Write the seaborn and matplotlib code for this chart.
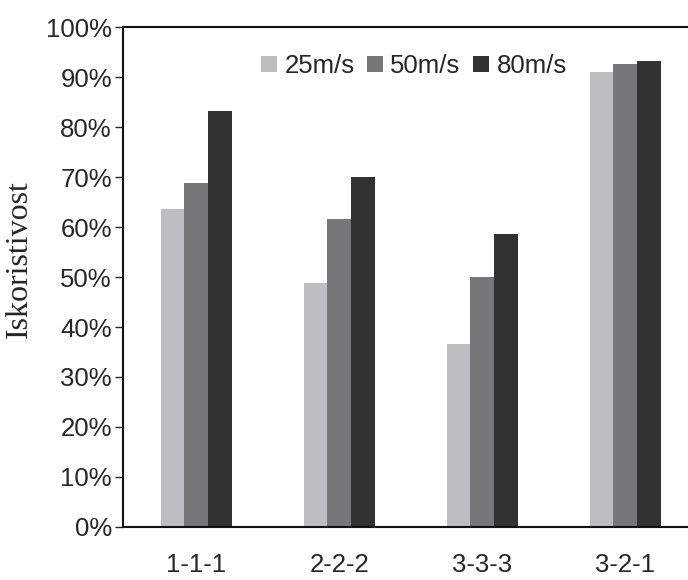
import matplotlib
matplotlib.use("Agg")
import matplotlib.pyplot as plt
import seaborn as sns
import pandas as pd
from matplotlib.ticker import PercentFormatter

configs = ["1-1-1", "2-2-2", "3-3-3", "3-2-1"]
speeds = ["25m/s", "50m/s", "80m/s"]
v25 = [63.7, 48.9, 36.7, 91.0]
v50 = [68.9, 61.7, 50.1, 92.7]
v80 = [83.3, 70.1, 58.7, 93.3]

rows = []
for speed, vals in zip(speeds, [v25, v50, v80]):
    for c, v in zip(configs, vals):
        rows.append({"config": c, "speed": speed, "value": v})
df = pd.DataFrame(rows)

sns.set_style("ticks")
plt.rcParams["font.family"] = ["Liberation Sans", "DejaVu Sans"]

fig = plt.figure(figsize=(6.88, 5.8), dpi=100)
ax = fig.add_axes([0.1788, 0.0914, 0.8212, 0.862])

palette = ["#bdbec2", "#77777a", "#333233"]
sns.barplot(data=df, x="config", y="value", hue="speed", palette=palette,
            width=0.5, gap=0, saturation=1, ax=ax, errorbar=None,
            linewidth=0)

ax.set_xlim(-0.513, 3.438)
ax.set_ylim(0, 100)
ax.set_yticks(range(0, 101, 10))
ax.yaxis.set_major_formatter(PercentFormatter(decimals=0))
ax.tick_params(axis="y", labelsize=18.5, length=6, width=1, color="#222222", pad=2)
ax.tick_params(axis="x", labelsize=18.5, length=0, pad=19)
ax.set_xlabel("")
ax.set_ylabel("Iskoristivost", family=["Liberation Serif"], fontsize=23)
ax.yaxis.set_label_coords(-0.157, 0.536)

for side in ["left", "top", "bottom"]:
    ax.spines[side].set_linewidth(1.5)
    ax.spines[side].set_color("#111111")
ax.spines["right"].set_visible(False)

ax.legend(loc="center", bbox_to_anchor=(0.515, 0.922), ncol=3, frameon=False,
          fontsize=18.5, handlelength=0.6, handleheight=0.6, handletextpad=0.3,
          columnspacing=0.5)

fig.savefig("out.png", dpi=100)
